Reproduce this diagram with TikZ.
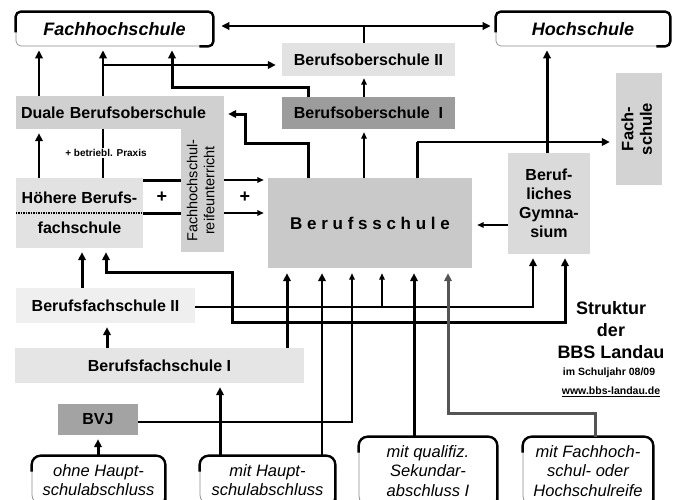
\documentclass[tikz,border=0pt]{standalone}
\usepackage{fontspec}
\usepackage{graphicx}
\setmainfont{Liberation Sans}
\usetikzlibrary{arrows.meta}
\definecolor{cbos2}{HTML}{E2E2E2}
\definecolor{cbos1}{HTML}{9C9C9C}
\definecolor{cdbos}{HTML}{D0D0D0}
\definecolor{chbfs}{HTML}{E2E2E2}
\definecolor{cbs}{HTML}{C9C9C9}
\definecolor{cbg}{HTML}{DADADA}
\definecolor{cfs}{HTML}{D3D3D3}
\definecolor{cbfs2}{HTML}{EFEFEF}
\definecolor{cbfs1}{HTML}{E5E5E5}
\definecolor{cbvj}{HTML}{A3A3A3}
\definecolor{cgrayline}{HTML}{555555}
\begin{document}
\begin{tikzpicture}[x=1pt,y=-1pt,
  box/.style={inner sep=0pt, align=center, font=\fontsize{16}{19}\selectfont\bfseries},
  rbox/.style={draw=black!45, line width=0.7pt, fill=white, inner sep=0pt, align=center},
  edgeline/.style={line width=2.4pt},
  tipA/.style={-{Triangle[length=8pt,width=7.5pt]}, shorten >=4pt},
  tipB/.style={-{Triangle[length=6.5pt,width=5.5pt]}, shorten >=4pt},
  w1/.style={line width=1.4pt},
  w2/.style={line width=2.2pt},
  w3/.style={line width=3pt},
  ttl/.style={font=\fontsize{18}{20}\selectfont\bfseries, inner sep=0pt},
  sml/.style={font=\fontsize{10.5}{12}\selectfont\bfseries, inner sep=0pt},
]
\useasboundingbox (0,0) rectangle (678,499);
\clip (0,0) rectangle (678,499);
\fill[white] (0,0) rectangle (678,499);

% ---------- nodes ----------
\node[rbox, rounded corners=5pt, minimum width=197pt, minimum height=34pt, font=\fontsize{18}{20}\selectfont\bfseries\itshape] (fh) at (114.5,29) {Fachhochschule};
\node[rbox, rounded corners=5pt, minimum width=174pt, minimum height=34pt, font=\fontsize{18}{20}\selectfont\bfseries\itshape] (hs) at (583,29) {Hochschule};
\node[box, fill=cbos2, minimum width=173pt, minimum height=33pt] (bos2) at (368.5,59.5) {Berufsoberschule II};
\node[box, fill=cbos1, minimum width=173pt, minimum height=32pt] (bos1) at (368.5,113) {Berufsoberschule\ \ I};
\node[box, fill=cdbos, minimum width=208pt, minimum height=33pt, text width=198pt, align=left] (dbos) at (120,112.5) {Duale Berufsoberschule};
\node[box, fill=cdbos, minimum width=43pt, minimum height=123pt, font=\fontsize{14.5}{17}\selectfont] (col) at (202.5,190.5) {\rotatebox{90}{\begin{tabular}{@{}c@{}}Fachhochschul-\\reifeunterricht\end{tabular}}};
\node[box, fill=chbfs, minimum width=127pt, minimum height=70pt, font=\fontsize{16}{30}\selectfont\bfseries] (hbfs) at (79.5,213) {Höhere Berufs-\\fachschule};
\node[box, fill=cbs, minimum width=204pt, minimum height=90pt, font=\fontsize{17}{20}\selectfont\bfseries] (bs) at (370,223) {B e r u f s s c h u l e};
\node[box, fill=cbg, minimum width=82pt, minimum height=101pt] (bg) at (549,203.5) {Beruf-\\liches\\Gymna-\\sium};
\node[box, fill=cfs, minimum width=46pt, minimum height=112pt, font=\fontsize{16.5}{18.5}\selectfont\bfseries] (fs) at (639,129) {\rotatebox{90}{\begin{tabular}{@{}c@{}}Fach-\\schule\end{tabular}}};
\node[box, fill=cbfs2, minimum width=179pt, minimum height=35pt] (bfs2) at (105.5,305.5) {Berufsfachschule II};
\node[box, fill=cbfs1, minimum width=289pt, minimum height=35pt] (bfs1) at (159.5,365.5) {Berufsfachschule I};
\node[box, fill=cbvj, minimum width=80pt, minimum height=31pt] (bvj) at (98,419.5) {BVJ};

\tikzset{bot/.style={rbox, rounded corners=9pt, font=\fontsize{16.5}{19.5}\selectfont\itshape}}
\node[bot, minimum width=133pt, minimum height=48pt] (ohne) at (98.5,480) {ohne Haupt-\\schulabschluss};
\node[bot, minimum width=135pt, minimum height=48pt] (mitH) at (267.5,480) {mit Haupt-\\schulabschluss};
\node[bot, minimum width=138pt, minimum height=68pt] (qual) at (428,471) {mit qualifiz.\\Sekundar-\\abschluss I};
\node[bot, minimum width=130pt, minimum height=68pt] (fhr) at (588,471) {mit Fachhoch-\\schul- oder\\Hochschulreife};

% thick upper/right edges of the rounded boxes
\draw[edgeline, rounded corners=5pt] ([yshift=14pt]fh.south west) |- (fh.north east) |- ([xshift=-14pt]fh.south east);
\draw[edgeline, rounded corners=5pt] ([yshift=14pt]hs.south west) |- (hs.north east) |- ([xshift=-14pt]hs.south east);
\foreach \b in {ohne,mitH,qual,fhr}
  \draw[edgeline, rounded corners=9pt] ([yshift=-16pt]\b.north west) |- (\b.north east) -- (\b.south east);

% ---------- connectors ----------
\coordinate (j1) at (364,26);
\draw[w2] (j1 |- bos2.north) -- (j1);
\draw[w2,tipA,shorten >=8pt] (j1) -- (fh.east |- j1);
\draw[w2,tipA,shorten >=5pt] (j1) -- (hs.west |- j1);

\coordinate (a39) at (39,0);
\coordinate (a103) at (103,0);
\draw[w2,tipA] (a39 |- dbos.north) -- (a39 |- fh.south);
\draw[w2,tipA] (a103 |- dbos.north) -- (a103 |- fh.south);
\coordinate (j2) at (103,65);
\draw[w2,tipA,shorten >=6pt] (j2) -- (bos2.west |- j2);
\coordinate (k0) at (308,0);
\coordinate (k1) at (172,87);
\draw[w3,tipA] (k0 |- bos1.north) |- (k1) -- (k1 |- fh.south);

\draw[w2,tipB,shorten >=2pt] (j1 |- bos1.north) -- (j1 |- bos2.south);
\draw[w1,tipB,shorten >=3pt] (j1 |- bs.north) -- (j1 |- bos1.south);
\coordinate (k2) at (308,143);
\coordinate (k3) at (245,114);
\draw[w3,tipA] (k2 |- bs.north) -- (k2) -| (k3) -- (dbos.east |- k3);
\coordinate (k4) at (417,142);
\draw[w3] (k4 |- bs.north) -- (k4);
\draw[w2,tipA,shorten >=6pt] (k4) -- (fs.west |- k4);
\coordinate (k5) at (547,0);
\draw[w3,tipA] (k5 |- bg.north) -- (k5 |- hs.south);

\draw[w2,tipA] (a39 |- hbfs.north) -- (a39 |- dbos.south);
\draw[w2] (a103 |- hbfs.north) -- (a103 |- dbos.south);
\node[fill=white, inner sep=1.5pt, font=\fontsize{10}{12}\selectfont\bfseries] (praxis) at (106,153) {+ betriebl. Praxis};
\draw[line width=1.3pt, dash pattern=on 1.5pt off 1pt] (hbfs.west) -- (hbfs.east);

\coordinate (p1) at (0,180);
\coordinate (p2) at (0,213);
\coordinate (p3) at (0,225);
\draw[w3] (hbfs.east |- p1) -- (col.west |- p1);
\draw[w3] (hbfs.east |- p2) -- (col.west |- p2);
\draw[w1,tipB] (col.east |- p1) -- (bs.west |- p1);
\draw[w1,tipB] (col.east |- p2) -- (bs.west |- p2);
\draw[w1,tipB,shorten >=5pt] (bg.west |- p3) -- (bs.east |- p3);
\node[font=\fontsize{18}{18}\selectfont\bfseries, inner sep=0pt] (plus1) at (162,197) {+};
\node[font=\fontsize{18}{18}\selectfont\bfseries, inner sep=0pt] (plus2) at (245,197) {+};

\coordinate (q82) at (82,0);
\draw[w3,tipA] (q82 |- bfs2.north) -- (q82 |- hbfs.south);
\coordinate (r0) at (106,0);
\coordinate (r1) at (232,272);
\coordinate (r2) at (565,322);
\draw[w3, {Triangle[length=8pt,width=7.5pt]}-{Triangle[length=8pt,width=7.5pt]}, shorten <=4pt, shorten >=4pt]
  (r0 |- hbfs.south) |- (r1) |- (r2) -- (r2 |- bg.south);
\coordinate (s1) at (533,307);
\draw[w2,tipA] (bfs2.east |- s1) -| (s1 |- bg.south);
\coordinate (s2) at (382,307);
\draw[w1,tipB,shorten >=5pt] (s2) -- (s2 |- bs.south);

\coordinate (t1) at (287,0);
\draw[w3,tipA,shorten >=5pt] (t1 |- bfs1.north) -- (t1 |- bs.south);
\coordinate (t2) at (107,0);
\draw[w3,tipA] (t2 |- bfs1.north) -- (t2 |- bfs2.south);
\coordinate (t3) at (220,0);
\draw[w3,tipA] (t3 |- mitH.north) -- (t3 |- bfs1.south);
\coordinate (t4) at (322,0);
\draw[w2,tipA,shorten >=5pt] (t4 |- mitH.north) -- (t4 |- bs.south);
\coordinate (t5) at (352,422);
\draw[w1,tipB,shorten >=5pt] (bvj.east |- t5) -| (t5 |- bs.south);
\draw[w3,tipA] (bvj.south |- ohne.north) -- (bvj.south);
\coordinate (t6) at (414,0);
\draw[w3,tipA,shorten >=5pt] (t6 |- qual.north) -- (t6 |- bs.south);
\coordinate (t7) at (448,413);
\coordinate (t8) at (595,0);
\draw[w3, cgrayline, tipA, shorten >=5pt] (t8 |- fhr.north) |- (t7) -- (t7 |- bs.south);

% ---------- title block ----------
\node[ttl] (st1) at (611,308) {Struktur};
\node[ttl] (st2) at (611,330) {der};
\node[ttl] (st3) at (611,352) {BBS Landau};
\node[sml] (st4) at (609,373) {im Schuljahr 08/09};
\node[sml] (st5) at (611,392) {\underline{www.bbs-landau.de}};
\end{tikzpicture}
\end{document}
